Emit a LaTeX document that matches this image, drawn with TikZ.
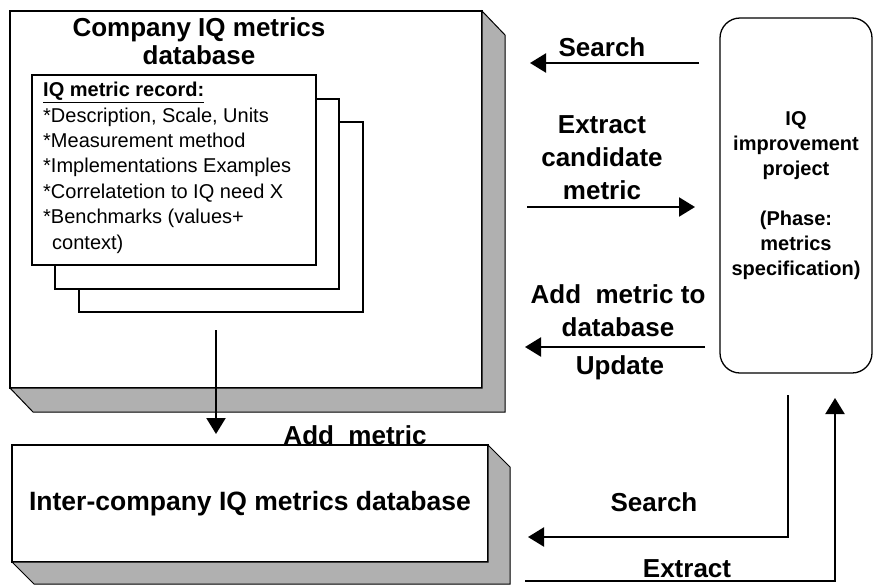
\documentclass[tikz,border=0pt]{standalone}
\usepackage{fontspec}
\setmainfont{Liberation Sans}
\usepackage{tikz}
\usetikzlibrary{arrows.meta, positioning}

% grey extrusion round a database face (node name, depth x, depth y)
\newcommand{\dbshade}[3]{%
  \filldraw[shade3d] (#1.north east) -- ++(#2,#3) -- ([shift={(#2,#3)}]#1.south east)
    -- ([shift={(#2,#3)}]#1.south west) -- (#1.south west) -- (#1.south east) -- cycle;}

\begin{document}
\begin{tikzpicture}[x=1pt, y=-1pt,
          dbface/.style={rectangle, draw=black, line width=1.6pt, fill=white, outer sep=0pt,
            inner sep=0pt},
          shade3d/.style={fill=gray!62, draw=black, line width=1pt},
          card/.style={rectangle, draw=black, line width=1.4pt, fill=white, outer sep=0pt,
            minimum width=284pt, minimum height=190pt},
          proj/.style={rectangle, rounded corners=20pt, draw=black, line width=1.3pt, outer sep=0pt,
            minimum width=152pt, minimum height=355pt, align=center,
            font=\bfseries\fontsize{20}{25}\selectfont},
          lbl/.style={align=center, inner sep=0pt, font=\bfseries\fontsize{26}{33}\selectfont},
          flow/.style={-{Triangle[length=16pt, width=19pt]}, line width=2.2pt}]
        \useasboundingbox (0,0) rectangle (874,584);
        % company database with its record cards
        \node[dbface, minimum width=472pt, minimum height=377pt] (compdb) at (246,199.5) {};
        \dbshade{compdb}{23}{24}
        \node[lbl, font=\bfseries\fontsize{26}{28}\selectfont] (comptitle) at (199,41) {Company IQ metrics\\database};
        \node[card] (card3) at (221,217) {};
        \node[card] (card2) at (197,194) {};
        \node[card] (card1) at (174,170) {};
        \node[anchor=north west, inner sep=0pt, align=left, font=\fontsize{20}{25.4}\selectfont]
          (rec) at (43,82) {\textbf{\underline{IQ metric record:}}\\
            *Description, Scale, Units\\
            *Measurement method\\
            *Implementations Examples\\
            *Correlatetion to IQ need X\\
            *Benchmarks (values+\\
            \hspace*{9pt}context)};
        % inter-company database
        \node[dbface, minimum width=476pt, minimum height=117pt,
          font=\bfseries\fontsize{26.5}{30}\selectfont] (interdb) at (250,503.5)
          {Inter-company IQ metrics database};
        \dbshade{interdb}{22}{22}
        % project
        \node[proj] (project) at (796,195.5) {IQ\\improvement\\project\\[25pt](Phase:\\metrics\\specification)};
        % flows between project and company database
        \draw[flow, shorten <=21pt, shorten >=48pt] (project.west |- 0,63) -- (compdb.east |- 0,63);
        \node[lbl] (l1) at (602,47) {Search};
        \draw[flow, shorten <=45pt, shorten >=25pt] (compdb.east |- 0,207) -- (project.west |- 0,207);
        \node[lbl] (l2) at (602,158) {Extract\\candidate\\metric};
        \draw[flow, shorten <=15pt, shorten >=43pt] (project.west |- 0,347) -- (compdb.east |- 0,347);
        \node[lbl] (l3) at (618,311) {Add~~metric to\\database};
        \node[lbl] (l4) at (620,368) {Update};
        % company to inter-company
        \draw[flow, shorten <=18pt, shorten >=11pt] ([xshift=-5pt]card3.south) -- ([xshift=-34pt]interdb.north);
        \node[lbl] (l5) at (355,435) {Add~~metric};
        % flows between project and inter-company database
        \draw[flow, shorten <=22pt, shorten >=40pt] ([xshift=-8pt]project.south) |- (interdb.east |- 0,537);
        \node[lbl] (l6) at (654,502) {Search};
        \draw[flow, shorten <=37pt, shorten >=25pt] (interdb.east |- 0,581) -| ([xshift=39pt]project.south);
        \node[lbl] (l7) at (687,569) {Extract};
\end{tikzpicture}
\end{document}
